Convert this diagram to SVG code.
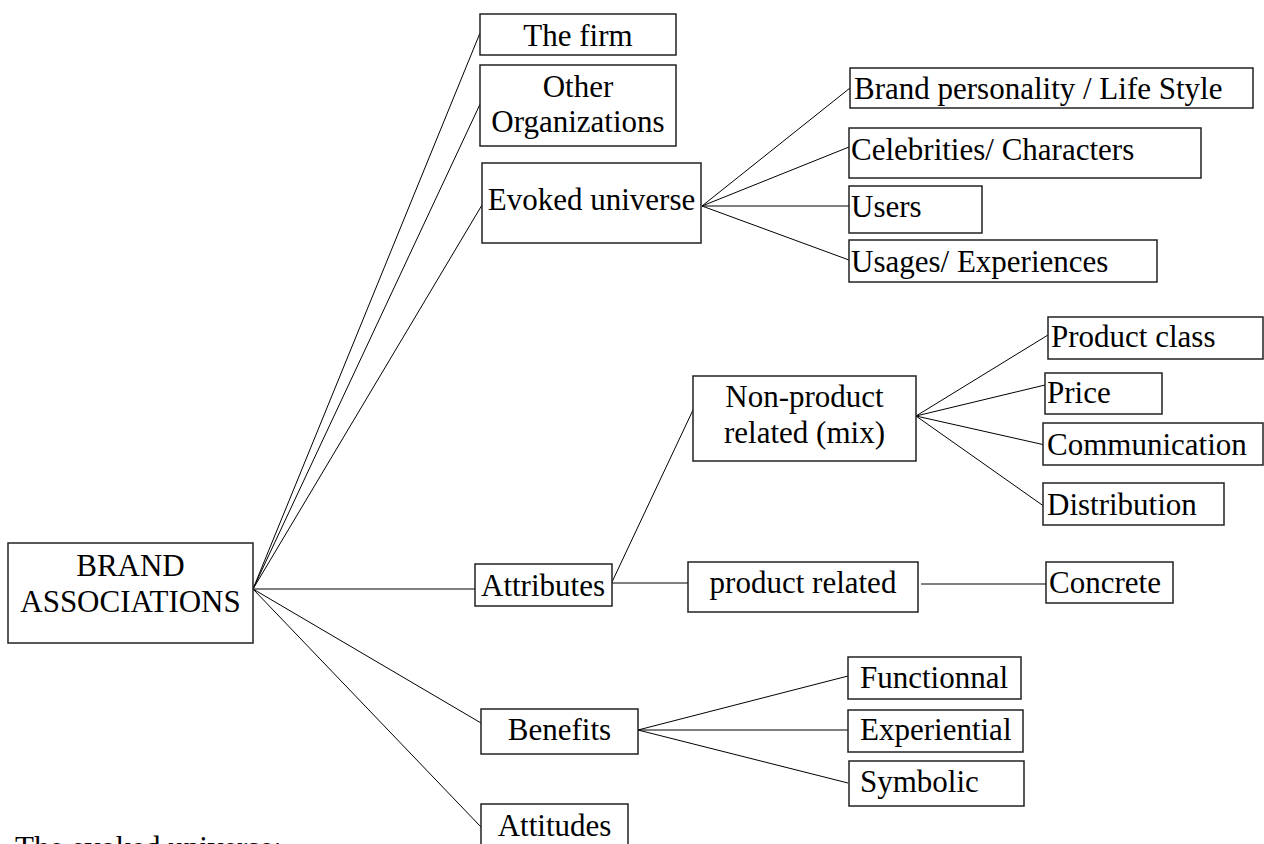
<svg xmlns="http://www.w3.org/2000/svg" width="1264" height="844" viewBox="0 0 1264 844">
<style>
.box{fill:#fff;stroke:#222;stroke-width:1.5}
.c line{stroke:#000;stroke-width:1}
text{font-family:"Liberation Serif","Times New Roman",serif;font-size:31px;fill:#000}
.m{text-anchor:middle}
</style>
<rect width="1264" height="844" fill="#fff"/>
<g class="c" id="connectors">
<line x1="253" y1="589" x2="480" y2="33"/>
<line x1="253" y1="589" x2="482" y2="100"/>
<line x1="253" y1="589" x2="482" y2="205"/>
<line x1="253" y1="589" x2="475" y2="589"/>
<line x1="253" y1="589" x2="481" y2="723"/>
<line x1="253" y1="589" x2="481" y2="827"/>
<line x1="702" y1="206" x2="850" y2="88"/>
<line x1="702" y1="206" x2="849" y2="147"/>
<line x1="702" y1="206" x2="849" y2="206"/>
<line x1="702" y1="206" x2="849" y2="260"/>
<line x1="612" y1="582" x2="693" y2="410"/>
<line x1="612" y1="583" x2="688" y2="583"/>
<line x1="921" y1="584" x2="1046" y2="584"/>
<line x1="916" y1="416" x2="1048" y2="335"/>
<line x1="916" y1="416" x2="1045" y2="385"/>
<line x1="916" y1="416" x2="1045" y2="445"/>
<line x1="916" y1="416" x2="1045" y2="507"/>
<line x1="638" y1="730" x2="848" y2="676"/>
<line x1="638" y1="730" x2="848" y2="730"/>
<line x1="638" y1="730" x2="848" y2="783"/>
</g>
<g id="brand"><rect class="box" x="8" y="543" width="245" height="100"/><text class="m" x="130.5" y="576">BRAND</text><text class="m" x="130.5" y="612">ASSOCIATIONS</text></g>
<g id="firm"><rect class="box" x="480" y="14" width="196" height="41"/><text class="m" x="578" y="46">The firm</text></g>
<g id="otherorg"><rect class="box" x="480" y="65" width="196" height="81"/><text class="m" x="578" y="97">Other</text><text class="m" x="578" y="132">Organizations</text></g>
<g id="evoked"><rect class="box" x="482" y="163" width="219" height="80"/><text class="m" x="591.5" y="210">Evoked universe</text></g>
<g id="personality"><rect class="box" x="850" y="68" width="403" height="40"/><text x="854" y="99">Brand personality / Life Style</text></g>
<g id="celebrities"><rect class="box" x="849" y="128" width="352" height="50"/><text x="851" y="160">Celebrities/ Characters</text></g>
<g id="users"><rect class="box" x="849" y="186" width="133" height="47"/><text x="851" y="217">Users</text></g>
<g id="usages"><rect class="box" x="849" y="240" width="308" height="42"/><text x="851" y="272">Usages/ Experiences</text></g>
<g id="nonproduct"><rect class="box" x="693" y="376" width="223" height="85"/><text class="m" x="804.5" y="407">Non-product</text><text class="m" x="804.5" y="443">related (mix)</text></g>
<g id="productclass"><rect class="box" x="1048" y="317" width="215" height="42"/><text x="1051" y="347">Product class</text></g>
<g id="price"><rect class="box" x="1045" y="373" width="117" height="41"/><text x="1047" y="403">Price</text></g>
<g id="communication"><rect class="box" x="1043" y="423" width="220" height="42"/><text x="1047" y="455">Communication</text></g>
<g id="distribution"><rect class="box" x="1043" y="483" width="181" height="42"/><text x="1047" y="515">Distribution</text></g>
<g id="productrelated"><rect class="box" x="688" y="562" width="230" height="50"/><text class="m" x="803" y="593">product related</text></g>
<g id="concrete"><rect class="box" x="1046" y="562" width="127" height="41"/><text x="1049" y="593">Concrete</text></g>
<g id="attributes"><rect class="box" x="475" y="564" width="137" height="42"/><text x="481" y="596">Attributes</text></g>
<g id="benefits"><rect class="box" x="481" y="709" width="157" height="45"/><text class="m" x="559.5" y="740">Benefits</text></g>
<g id="attitudes"><rect class="box" x="481" y="804" width="147" height="60"/><text class="m" x="554.5" y="836">Attitudes</text></g>
<g id="functionnal"><rect class="box" x="848" y="657" width="173" height="42"/><text x="860" y="688">Functionnal</text></g>
<g id="experiential"><rect class="box" x="848" y="710" width="175" height="42"/><text x="860" y="740">Experiential</text></g>
<g id="symbolic"><rect class="box" x="849" y="761" width="175" height="45"/><text x="860" y="792">Symbolic</text></g>
<text x="15" y="858">The evoked universe:</text>
</svg>
